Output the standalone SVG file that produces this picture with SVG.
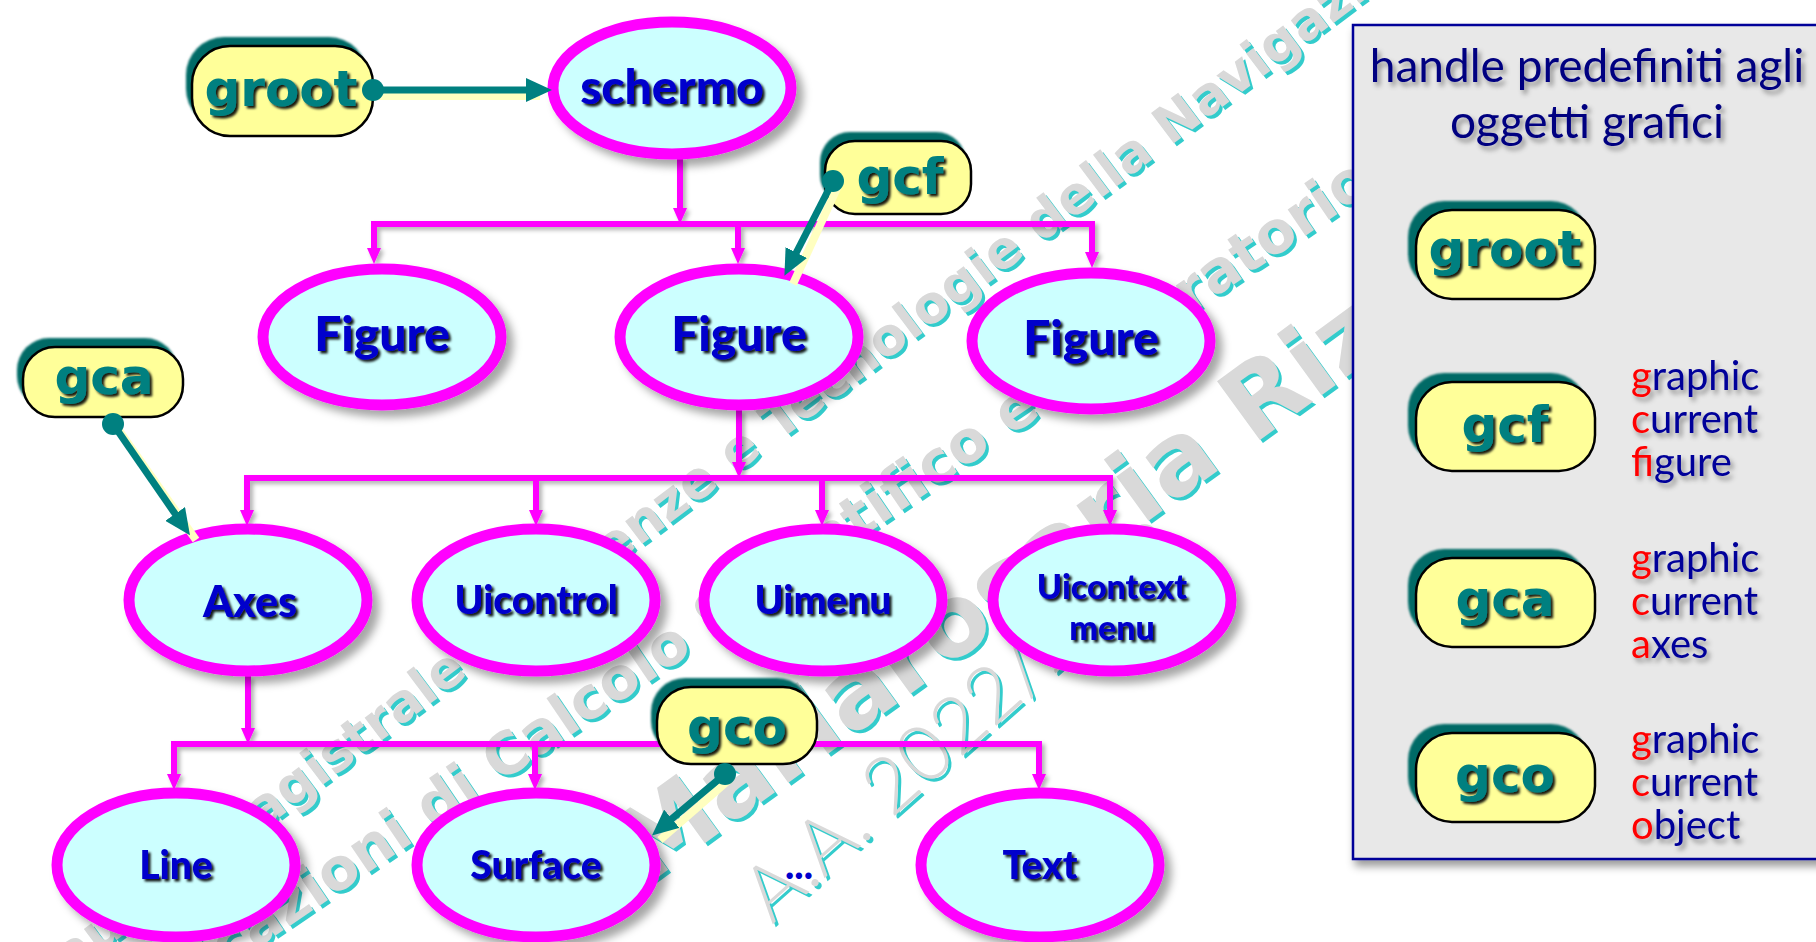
<svg xmlns="http://www.w3.org/2000/svg" xmlns:xlink="http://www.w3.org/1999/xlink" width="1816" height="942" viewBox="0 0 1816 942">
  <style>
    .ell { fill: #ccffff; stroke: #ff00ff; stroke-width: 11; }
    .ntxt { font-family: Lato, "Liberation Sans", sans-serif; font-weight: 900; fill: #0000cc; text-anchor: middle; }
    .tagbg { fill: #006a66; }
    .tag { fill: #ffff99; stroke: #000; stroke-width: 2.5; }
    .tagtxt { font-family: "DejaVu Sans", "Liberation Sans", sans-serif; font-weight: 700; font-size: 50px; fill: #008080; text-anchor: middle; }
    .bus { fill: none; stroke: #ff00ff; stroke-width: 6; stroke-linecap: square; }
    .drop { fill: none; stroke: #ff00ff; stroke-width: 6; marker-end: url(#mArrow); }
    .ptr { stroke: #008080; stroke-width: 7; marker-end: url(#tArrow); }
    .ptrhl { stroke: #ffffc0; stroke-width: 8; }
    .wm { font-family: "DejaVu Sans", Lato, sans-serif; font-weight: 700; }
    .wmThin { font-family: Lato, "DejaVu Sans", sans-serif; font-weight: 300; }
    .ptxt { font-family: Lato, "Open Sans", sans-serif; font-size: 40px; fill: #000099; }
    .red { fill: #ff0000; }
  </style>
  <defs>
    <filter id="ellShadow" x="-20%" y="-20%" width="150%" height="150%">
      <feDropShadow dx="7" dy="7" stdDeviation="4" flood-color="#000" flood-opacity="0.35"/>
    </filter>
    <filter id="lineShadow" x="-5%" y="-5%" width="110%" height="120%">
      <feDropShadow dx="3" dy="3" stdDeviation="2" flood-color="#000" flood-opacity="0.3"/>
    </filter>
    <filter id="nodeText" x="-10%" y="-20%" width="120%" height="150%">
      <feDropShadow dx="2.5" dy="2.5" stdDeviation="0.8" flood-color="#000" flood-opacity="0.9"/>
    </filter>
    <filter id="softText" x="-10%" y="-20%" width="120%" height="150%">
      <feDropShadow dx="3" dy="4" stdDeviation="2.5" flood-color="#000" flood-opacity="0.4"/>
    </filter>
    <filter id="panelShadow" x="-5%" y="-5%" width="110%" height="110%">
      <feDropShadow dx="3" dy="6" stdDeviation="4" flood-color="#000" flood-opacity="0.4"/>
    </filter>
    <filter id="tagBlur">
      <feGaussianBlur stdDeviation="1.2"/>
    </filter>
    <marker id="mArrow" markerUnits="userSpaceOnUse" markerWidth="16" markerHeight="14" viewBox="0 0 16 14" refX="3" refY="7" orient="auto">
      <path d="M0,0 L16,7 L0,14 z" fill="#ff00ff"/>
    </marker>
    <marker id="tArrow" markerUnits="userSpaceOnUse" markerWidth="26" markerHeight="24" viewBox="0 0 26 24" refX="5" refY="12" orient="auto">
      <path d="M0,0 L26,12 L0,24 z" fill="#008080"/>
    </marker>
    <!-- diagonal background lettering, drawn twice (cyan offset + grey) -->
    <g id="wmText">
      <g class="wm" font-size="52" transform="translate(741,452) rotate(-37)">
        <text x="-36" y="14" text-anchor="end">Laurea magistrale in Scienze</text>
        <text x="-17.6" y="14">e Tecnologie della Navigazione</text>
      </g>
      <g class="wm" font-size="58" transform="translate(585,700) rotate(-34.2)">
        <text x="118" y="21" text-anchor="end">Applicazioni di Calcolo</text>
        <text x="138" y="21">Scientifico e Laboratorio</text>
      </g>
      <g class="wm" font-size="100" transform="translate(1262,394) rotate(-36)">
        <text x="-73" y="36" text-anchor="end">Mariarosaria</text>
        <text x="-38" y="36">Rizzardi</text>
      </g>
      <text class="wmThin" font-size="78" transform="translate(772,925) rotate(-41.6)">A.A. 2022/2023</text>
    </g>
  </defs>

  <rect width="1816" height="942" fill="#ffffff"/>

  <g id="watermark">
    <use xlink:href="#wmText" href="#wmText" fill="#33cccc" transform="translate(3,3)"/>
    <use xlink:href="#wmText" href="#wmText" fill="#d9d9d9"/>
  </g>

  <!-- legend panel -->
  <g id="legend">
    <rect x="1353" y="25" width="480" height="834" fill="#e8e8e8" stroke="#000099" stroke-width="2.5" filter="url(#panelShadow)"/>
    <g filter="url(#softText)" font-family="Lato, 'Open Sans', sans-serif" font-size="46" fill="#000080" text-anchor="middle">
      <text x="1587" y="82">handle predefiniti agli</text>
      <text x="1587" y="138">oggetti grafici</text>
    </g>
    <g id="legend-groot">
      <rect class="tagbg" x="1408" y="201" width="179" height="89" rx="36" filter="url(#tagBlur)"/>
      <rect class="tag" x="1416" y="210" width="179" height="89" rx="36"/>
      <text class="tagtxt" x="1505" y="266" filter="url(#nodeText)">groot</text>
    </g>
    <g id="legend-gcf">
      <rect class="tagbg" x="1408" y="373" width="179" height="89" rx="36" filter="url(#tagBlur)"/>
      <rect class="tag" x="1416" y="382" width="179" height="89" rx="36"/>
      <text class="tagtxt" x="1505" y="442" filter="url(#nodeText)">gcf</text>
      <g class="ptxt" filter="url(#softText)">
        <text x="1631" y="390"><tspan class="red">g</tspan>raphic</text>
        <text x="1631" y="433"><tspan class="red">c</tspan>urrent</text>
        <text x="1631" y="476"><tspan class="red">f</tspan>igure</text>
      </g>
    </g>
    <g id="legend-gca">
      <rect class="tagbg" x="1408" y="549" width="179" height="89" rx="36" filter="url(#tagBlur)"/>
      <rect class="tag" x="1416" y="558" width="179" height="89" rx="36"/>
      <text class="tagtxt" x="1505" y="616" filter="url(#nodeText)">gca</text>
      <g class="ptxt" filter="url(#softText)">
        <text x="1631" y="572"><tspan class="red">g</tspan>raphic</text>
        <text x="1631" y="615"><tspan class="red">c</tspan>urrent</text>
        <text x="1631" y="658"><tspan class="red">a</tspan>xes</text>
      </g>
    </g>
    <g id="legend-gco">
      <rect class="tagbg" x="1408" y="724" width="179" height="89" rx="36" filter="url(#tagBlur)"/>
      <rect class="tag" x="1416" y="733" width="179" height="89" rx="36"/>
      <text class="tagtxt" x="1505" y="792" filter="url(#nodeText)">gco</text>
      <g class="ptxt" filter="url(#softText)">
        <text x="1631" y="753"><tspan class="red">g</tspan>raphic</text>
        <text x="1631" y="796"><tspan class="red">c</tspan>urrent</text>
        <text x="1631" y="839"><tspan class="red">o</tspan>bject</text>
      </g>
    </g>
  </g>

  <!-- hierarchy connectors -->
  <g id="connectors" filter="url(#lineShadow)">
    <line class="drop" x1="680" y1="158" x2="680" y2="211"/>
    <path class="bus" d="M374,224 H1092"/>
    <line class="drop" x1="374" y1="224" x2="374" y2="251"/>
    <line class="drop" x1="738" y1="224" x2="738" y2="251"/>
    <line class="drop" x1="1092" y1="224" x2="1092" y2="255"/>

    <line class="drop" x1="739" y1="410" x2="739" y2="465"/>
    <path class="bus" d="M247,478 H1110"/>
    <line class="drop" x1="247" y1="478" x2="247" y2="513"/>
    <line class="drop" x1="536" y1="478" x2="536" y2="513"/>
    <line class="drop" x1="822" y1="478" x2="822" y2="513"/>
    <line class="drop" x1="1110" y1="478" x2="1110" y2="513"/>

    <line class="drop" x1="248" y1="676" x2="248" y2="731"/>
    <path class="bus" d="M174,744 H1039"/>
    <line class="drop" x1="174" y1="744" x2="174" y2="777"/>
    <line class="drop" x1="535" y1="744" x2="535" y2="777"/>
    <line class="drop" x1="1039" y1="744" x2="1039" y2="777"/>
  </g>

  <!-- object nodes -->
  <g id="schermo" filter="url(#ellShadow)">
    <ellipse class="ell" cx="672" cy="88" rx="119" ry="66"/>
    <text class="ntxt" x="672" y="104" font-size="48" filter="url(#nodeText)">schermo</text>
  </g>
  <g id="figure1" filter="url(#ellShadow)">
    <ellipse class="ell" cx="382" cy="337" rx="119" ry="68"/>
    <text class="ntxt" x="382" y="351" font-size="48" filter="url(#nodeText)">Figure</text>
  </g>
  <g id="figure2" filter="url(#ellShadow)">
    <ellipse class="ell" cx="739" cy="337" rx="119" ry="68"/>
    <text class="ntxt" x="739" y="351" font-size="48" filter="url(#nodeText)">Figure</text>
  </g>
  <g id="figure3" filter="url(#ellShadow)">
    <ellipse class="ell" cx="1091" cy="341" rx="119" ry="68"/>
    <text class="ntxt" x="1091" y="355" font-size="48" filter="url(#nodeText)">Figure</text>
  </g>
  <g id="axes" filter="url(#ellShadow)">
    <ellipse class="ell" cx="248" cy="600" rx="119" ry="71"/>
    <text class="ntxt" x="250" y="617" font-size="43" filter="url(#nodeText)">Axes</text>
  </g>
  <g id="uicontrol" filter="url(#ellShadow)">
    <ellipse class="ell" cx="536" cy="600" rx="119" ry="71"/>
    <text class="ntxt" x="536" y="614" font-size="39" filter="url(#nodeText)">Uicontrol</text>
  </g>
  <g id="uimenu" filter="url(#ellShadow)">
    <ellipse class="ell" cx="823" cy="600" rx="119" ry="71"/>
    <text class="ntxt" x="823" y="614" font-size="39" filter="url(#nodeText)">Uimenu</text>
  </g>
  <g id="uicontextmenu" filter="url(#ellShadow)">
    <ellipse class="ell" cx="1112" cy="600" rx="119" ry="71"/>
    <text class="ntxt" x="1112" y="599" font-size="34" filter="url(#nodeText)">Uicontext</text>
    <text class="ntxt" x="1112" y="640" font-size="34" filter="url(#nodeText)">menu</text>
  </g>
  <g id="line" filter="url(#ellShadow)">
    <ellipse class="ell" cx="176" cy="865" rx="119" ry="72"/>
    <text class="ntxt" x="176" y="879" font-size="39" filter="url(#nodeText)">Line</text>
  </g>
  <g id="surface" filter="url(#ellShadow)">
    <ellipse class="ell" cx="536" cy="865" rx="119" ry="72"/>
    <text class="ntxt" x="536" y="879" font-size="39" filter="url(#nodeText)">Surface</text>
  </g>
  <g id="more">
    <text class="ntxt" x="799" y="879" font-size="39" fill="#000099">...</text>
  </g>
  <g id="text" filter="url(#ellShadow)">
    <ellipse class="ell" cx="1040" cy="865" rx="119" ry="72"/>
    <text class="ntxt" x="1040" y="879" font-size="39" filter="url(#nodeText)">Text</text>
  </g>

  <!-- handle tags -->
  <g id="groot">
    <rect class="tagbg" x="186" y="37" width="181" height="90" rx="38" filter="url(#tagBlur)"/>
    <rect class="tag" x="192" y="46" width="181" height="90" rx="38"/>
    <text class="tagtxt" x="281" y="106" filter="url(#nodeText)">groot</text>
  </g>
  <g id="gcf">
    <rect class="tagbg" x="820" y="132" width="146" height="73" rx="30" filter="url(#tagBlur)"/>
    <rect class="tag" x="825" y="141" width="146" height="73" rx="30"/>
    <text class="tagtxt" x="900" y="194" filter="url(#nodeText)">gcf</text>
  </g>
  <g id="gca">
    <rect class="tagbg" x="17" y="338" width="160" height="70" rx="32" filter="url(#tagBlur)"/>
    <rect class="tag" x="23" y="347" width="160" height="70" rx="32"/>
    <text class="tagtxt" x="104" y="394" filter="url(#nodeText)">gca</text>
  </g>
  <g id="gco">
    <rect class="tagbg" x="651" y="678" width="160" height="77" rx="34" filter="url(#tagBlur)"/>
    <rect class="tag" x="657" y="687" width="160" height="77" rx="34"/>
    <text class="tagtxt" x="737" y="744" filter="url(#nodeText)">gco</text>
  </g>

  <!-- handle pointers -->
  <g id="pointers">
    <line class="ptrhl" x1="377" y1="96" x2="540" y2="96"/>
    <line class="ptr" x1="373" y1="90" x2="531" y2="90"/>
    <circle cx="373" cy="90" r="11" fill="#008080"/>

    <line class="ptrhl" x1="838" y1="186" x2="793" y2="284"/>
    <line class="ptr" x1="833" y1="181" x2="794" y2="257"/>
    <circle cx="833" cy="181" r="11" fill="#008080"/>

    <line class="ptrhl" x1="118" y1="429" x2="196" y2="540"/>
    <line class="ptr" x1="113" y1="424" x2="178" y2="518"/>
    <circle cx="113" cy="424" r="11" fill="#008080"/>

    <line class="ptrhl" x1="730" y1="779" x2="660" y2="840"/>
    <line class="ptr" x1="725" y1="774" x2="668" y2="822"/>
    <circle cx="725" cy="774" r="11" fill="#008080"/>
  </g>
</svg>
